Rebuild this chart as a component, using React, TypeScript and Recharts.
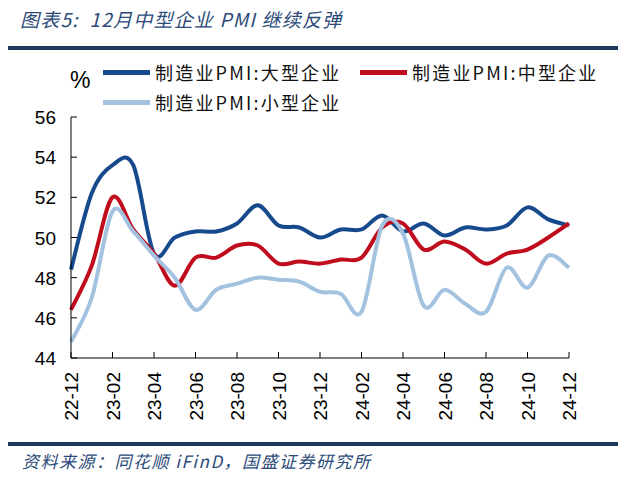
import React from 'react';
import { LineChart, Line, XAxis, YAxis } from 'recharts';

const months = [
  '22-12', '23-01', '23-02', '23-03', '23-04', '23-05', '23-06', '23-07', '23-08',
  '23-09', '23-10', '23-11', '23-12', '24-01', '24-02', '24-03', '24-04', '24-05',
  '24-06', '24-07', '24-08', '24-09', '24-10', '24-11', '24-12',
];
const largeValues = [
  48.4, 52.2, 53.6, 53.6, 49.2, 50.0, 50.3, 50.3, 50.7, 51.6, 50.6, 50.5, 50.0,
  50.4, 50.4, 51.1, 50.3, 50.7, 50.1, 50.5, 50.4, 50.6, 51.5, 50.9, 50.6,
];
const mediumValues = [
  46.4, 48.6, 52.0, 50.4, 49.2, 47.6, 49.0, 49.0, 49.6, 49.6, 48.7, 48.8, 48.7,
  48.9, 49.0, 50.5, 50.7, 49.4, 49.8, 49.4, 48.7, 49.2, 49.4, 50.0, 50.7,
];
const smallValues = [
  44.8, 47.0, 51.3, 50.3, 49.1, 48.0, 46.4, 47.4, 47.7, 48.0, 47.9, 47.8, 47.3,
  47.2, 46.3, 50.6, 50.2, 46.6, 47.4, 46.7, 46.3, 48.5, 47.5, 49.1, 48.5,
];
const yTicks = [44, 46, 48, 50, 52, 54, 56];
const xTicks = months.filter((_, i) => i % 2 === 0);

const series = [
  { key: 'large', name: '制造业PMI:大型企业', color: '#174a8c' },
  { key: 'medium', name: '制造业PMI:中型企业', color: '#c00d1e' },
  { key: 'small', name: '制造业PMI:小型企业', color: '#a3c2e0' },
];

const data = months.map((m, i) => ({
  month: m,
  large: largeValues[i],
  medium: mediumValues[i],
  small: smallValues[i],
}));

const navy = '#1d3a5c';
const tickFont = '"Liberation Sans", Arial, sans-serif';
const cjkFont = '"Noto Sans CJK SC", "Noto Sans", sans-serif';

// catmull-rom style smoothing, closer to excel's "smoothed line" than monotone
function smoothCurve(context: any) {
  let pts: number[][] = [];
  return {
    areaStart() {},
    areaEnd() {},
    lineStart() {
      pts = [];
    },
    point(x: number, y: number) {
      pts.push([+x, +y]);
    },
    lineEnd() {
      if (!pts.length) return;
      context.moveTo(pts[0][0], pts[0][1]);
      for (let i = 0; i < pts.length - 1; i++) {
        const p0 = pts[i - 1] || pts[i];
        const p1 = pts[i];
        const p2 = pts[i + 1];
        const p3 = pts[i + 2] || p2;
        context.bezierCurveTo(
          p1[0] + (p2[0] - p0[0]) / 6,
          p1[1] + (p2[1] - p0[1]) / 6,
          p2[0] - (p3[0] - p1[0]) / 6,
          p2[1] - (p3[1] - p1[1]) / 6,
          p2[0],
          p2[1],
        );
      }
    },
  };
}

function XTick({ x, y, payload }: any) {
  return (
    <g>
      <line x1={x} y1={y} x2={x} y2={y - 6} stroke="#000" strokeWidth={1} />
      <text
        x={0}
        y={0}
        transform={`translate(${x + 7},${y + 14}) rotate(-90)`}
        textAnchor="end"
        fontSize={19}
        fontFamily={tickFont}
        fill="#000"
      >
        {payload.value}
      </text>
    </g>
  );
}

function YTick({ x, y, payload }: any) {
  return (
    <g>
      <line x1={x} y1={y} x2={x + 6} y2={y} stroke="#000" strokeWidth={1} />
      <text x={x - 15} y={y + 7} textAnchor="end" fontSize={19} fontFamily={tickFont} fill="#000">
        {payload.value}
      </text>
    </g>
  );
}

// legend drawn as plain html so it does not shift the plot area
function LegendBox() {
  const pos = [
    { left: 103, top: 58 },
    { left: 360, top: 58 },
    { left: 103, top: 88 },
  ];
  return (
    <>
      {series.map((s, i) => (
        <div
          key={s.key}
          style={{ position: 'absolute', left: pos[i].left, top: pos[i].top, display: 'flex', alignItems: 'center' }}
        >
          <div style={{ width: 47, height: 5, background: s.color, marginRight: 5 }} />
          <span style={{ fontSize: 18, fontFamily: cjkFont, color: '#111', letterSpacing: 2.2, lineHeight: '28px' }}>
            {s.name}
          </span>
        </div>
      ))}
    </>
  );
}

export default function App() {
  return (
    <div style={{ position: 'absolute', left: 0, top: 0, width: 624, height: 480, background: '#fff' }}>
      <div
        style={{
          position: 'absolute', left: 20, top: 5, fontSize: 19, fontStyle: 'italic',
          fontFamily: cjkFont, color: '#2b4a78', whiteSpace: 'pre', letterSpacing: 1.2,
        }}
      >
        {'图表5:  12月中型企业 PMI 继续反弹'}
      </div>
      <div style={{ position: 'absolute', left: 8, top: 46, width: 610, height: 4, background: navy }} />
      <div
        style={{
          position: 'absolute', left: 70, top: 67, fontSize: 23, fontFamily: tickFont, color: '#000',
        }}
      >
        %
      </div>
      <LineChart
        width={624}
        height={480}
        data={data}
        margin={{ top: 117, right: 55, bottom: 52, left: 21 }}
        style={{ position: 'absolute', left: 0, top: 0 }}
      >
        <XAxis
          dataKey="month"
          ticks={xTicks}
          interval={0}
          tickSize={0}
          tickMargin={0}
          tickLine={false}
          height={70}
          padding={{ left: 0, right: 0 }}
          axisLine={{ stroke: '#000', strokeWidth: 1 }}
          tick={<XTick />}
        />
        <YAxis
          domain={[44, 56]}
          ticks={yTicks}
          width={50}
          tickSize={0}
          tickMargin={0}
          tickLine={false}
          axisLine={{ stroke: '#000', strokeWidth: 1 }}
          tick={<YTick />}
          allowDataOverflow
        />
        {series.map((s) => (
          <Line
            key={s.key}
            type={smoothCurve as any}
            dataKey={s.key}
            name={s.name}
            stroke={s.color}
            strokeWidth={4}
            dot={false}
            activeDot={false}
            isAnimationActive={false}
          />
        ))}
      </LineChart>
      <LegendBox />
      <div style={{ position: 'absolute', left: 8, top: 442, width: 610, height: 4, background: navy }} />
      <div
        style={{
          position: 'absolute', left: 22, top: 448, fontSize: 17, fontStyle: 'italic',
          fontFamily: cjkFont, color: '#2b4a78', letterSpacing: 1.5,
        }}
      >
        资料来源：同花顺 iFinD，国盛证券研究所
      </div>
    </div>
  );
}
